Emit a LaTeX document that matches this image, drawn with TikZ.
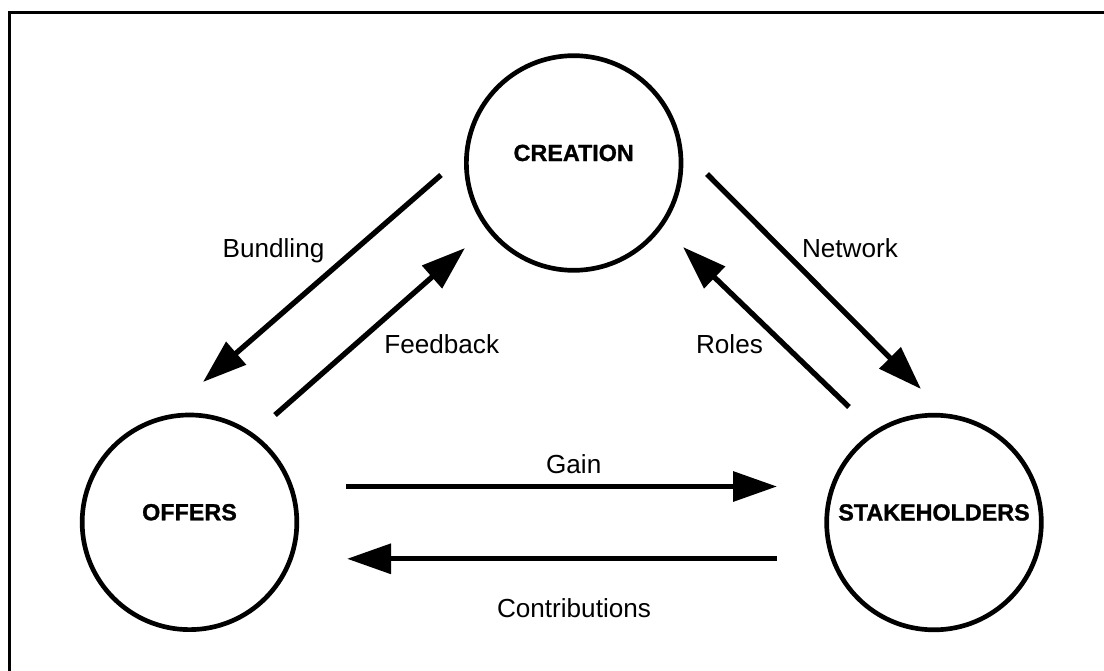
\documentclass[tikz,border=0pt]{standalone}
\usepackage{fontspec}
\setmainfont{Liberation Sans}
\newfontfamily\stagefont{Liberation Sans Bold}[FakeBold=1.2]
\usetikzlibrary{arrows.meta}
\begin{document}
\begin{tikzpicture}[x=0.75pt,y=-0.75pt,
  stage/.style={circle, draw, line width=3.5pt, minimum size=161pt, inner sep=0pt,
    font=\fontsize{17.5}{21}\stagefont, text height=0pt, text depth=3pt},
  flow/.style={line width=4pt, -{Triangle[length=33pt,width=22pt]}},
  tag/.style={anchor=base, inner sep=0pt, font=\fontsize{19.6}{23}\selectfont},
  frame/.style={line width=1.9pt}]
  \useasboundingbox (0,0) rectangle (1104,671);

  % partial frame (top and left edges)
  \coordinate (frameR) at (1104,12.7);
  \coordinate (frameC) at (9.3,12.7);
  \coordinate (frameB) at (9.3,671);
  \draw[frame] (frameR) -- (frameC) -- (frameB);

  % the three stages
  \node[stage] (creation) at (573.7,163) {CREATION};
  \node[stage] (offers)   at (189.5,522.3) {OFFERS};
  \node[stage] (stake)    at (934,522.5) {STAKEHOLDERS};

  % arrow end points
  \coordinate (bundA) at (441,175);  \coordinate (bundB) at (203,382);
  \coordinate (feedA) at (275,415);  \coordinate (feedB) at (465,248);
  \coordinate (netA)  at (707,174);  \coordinate (netB)  at (921,389);
  \coordinate (roleA) at (849,407);  \coordinate (roleB) at (683,247);
  \coordinate (gainA) at (346,486.5);  \coordinate (gainB) at (777,486.5);
  \coordinate (contA) at (777,558.8);  \coordinate (contB) at (347,558.8);

  \draw[flow] (bundA) -- (bundB);
  \draw[flow] (feedA) -- (feedB);
  \draw[flow] (netA)  -- (netB);
  \draw[flow] (roleA) -- (roleB);
  \draw[flow] (gainA) -- (gainB);
  \draw[flow] (contA) -- (contB);

  % flow labels
  \node[tag] (lbund) at (273.5,257)   {Bundling};
  \node[tag] (lfeed) at (441.7,353)   {Feedback};
  \node[tag] (lnet)  at (850,257)     {Network};
  \node[tag] (lrole) at (729.5,353)   {Roles};
  \node[tag] (lgain) at (573.7,473)   {Gain};
  \node[tag] (lcont) at (574,617)     {Contributions};
\end{tikzpicture}
\end{document}
